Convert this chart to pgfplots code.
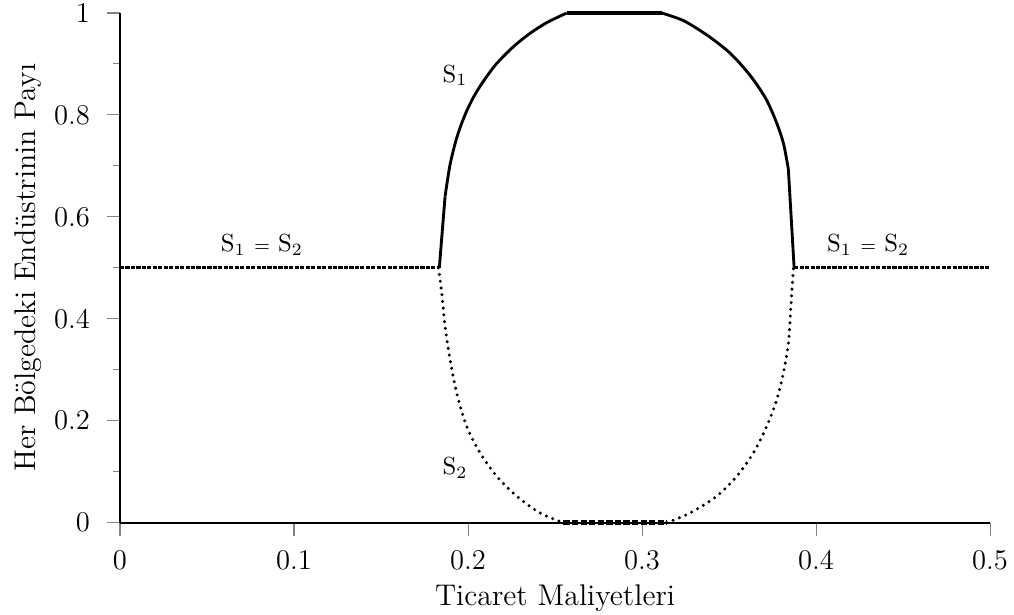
\documentclass[border=0pt]{standalone}
\usepackage{pgfplots}
\pgfplotsset{compat=1.18}
\begin{document}
\begin{tikzpicture}
\begin{axis}[
  scale only axis,
  width=334.6pt, height=196pt,
  xmin=0, xmax=0.5, ymin=0, ymax=1,
  axis x line*=bottom, axis y line*=left,
  axis line style={-, line width=0.9pt, black},
  xtick={0,0.1,0.2,0.3,0.4,0.5},
  xticklabels={0,0.1,0.2,0.3,0.4,0.5},
  ytick={0,0.2,0.4,0.6,0.8,1},
  yticklabels={0,0.2,0.4,0.6,0.8,1},
  minor y tick num=1,
  tick align=outside,
  major tick length=5pt, minor tick length=2.6pt,
  every tick/.style={gray, line width=0.4pt},
  tick label style={font=\fontsize{11}{13}\selectfont},
  xticklabel style={yshift=-2pt},
  yticklabel style={xshift=-3pt},
  xlabel={Ticaret Maliyetleri},
  ylabel={Her Bölgedeki Endüstrinin Payı},
  label style={font=\fontsize{11.5}{14}\selectfont},
  xlabel style={yshift=1pt},
  ylabel style={yshift=-2pt},
  clip=false,
]
% S1 (solid)
\addplot[black, line width=1.1pt] coordinates {(0.1835,0.5) (0.1868,0.640)};
\addplot[black, line width=1.1pt, smooth, tension=0.5] coordinates {
(0.1868,0.640) (0.1897,0.703) (0.1935,0.755) (0.1980,0.798) (0.2030,0.834)
(0.2088,0.866) (0.2165,0.901) (0.2261,0.934) (0.2356,0.960) (0.2452,0.981)
(0.2567,1.0)
};
\addplot[black, line width=1.5pt] coordinates {(0.2567,1) (0.3113,1)};
\addplot[black, line width=1.1pt, smooth, tension=0.5] coordinates {
(0.3113,1.0) (0.3238,0.985) (0.3372,0.957) (0.3487,0.927) (0.3563,0.901)
(0.364,0.869) (0.3716,0.829) (0.3774,0.784) (0.3812,0.745) (0.3835,0.705)
(0.3841,0.692)
};
\addplot[black, line width=1.1pt] coordinates {(0.3841,0.692) (0.3874,0.5)};
% S2 (dotted)
\addplot[black, line width=1.3pt, line cap=round, dash pattern=on 0pt off 2.6pt, smooth, tension=0.5] coordinates {
(0.1830,0.5) (0.1849,0.450) (0.1868,0.385) (0.1897,0.320) (0.1935,0.254)
(0.1992,0.189) (0.2069,0.137) (0.2165,0.091) (0.2280,0.052) (0.2414,0.019)
(0.2548,0.0)
};
\addplot[black, line width=1.3pt, line cap=round, dash pattern=on 0pt off 2.6pt, smooth, tension=0.5] coordinates {
(0.3142,0.0) (0.3276,0.019) (0.3429,0.052) (0.3544,0.091) (0.364,0.137)
(0.3716,0.189) (0.3774,0.241) (0.3812,0.294) (0.3841,0.352) (0.3854,0.418)
(0.3870,0.5)
};
\addplot[black, line width=1.7pt, dash pattern=on 2.4pt off 0.9pt] coordinates {(0.2548,0) (0.3142,0)};
% S1 = S2 flat parts
\addplot[black, line width=1.1pt, dash pattern=on 1.6pt off 0.5pt] coordinates {(0,0.5) (0.1835,0.5)};
\addplot[black, line width=1.1pt, dash pattern=on 1.6pt off 0.5pt] coordinates {(0.3874,0.5) (0.5,0.5)};
% labels
\node[font=\fontsize{9.5}{11}\selectfont] at (axis cs:0.1925,0.878) {S\textsubscript{1}};
\node[font=\fontsize{9.5}{11}\selectfont] at (axis cs:0.1925,0.108) {S\textsubscript{2}};
\node[font=\fontsize{9.5}{11}\selectfont] at (axis cs:0.0816,0.545) {S\textsubscript{1} {\scriptsize=} S\textsubscript{2}};
\node[font=\fontsize{9.5}{11}\selectfont] at (axis cs:0.43,0.545) {S\textsubscript{1} {\scriptsize=} S\textsubscript{2}};
\end{axis}
\pgfresetboundingbox
\useasboundingbox (-46.15pt,-35.4pt) rectangle (343.8pt,201pt);
\end{tikzpicture}
\end{document}
